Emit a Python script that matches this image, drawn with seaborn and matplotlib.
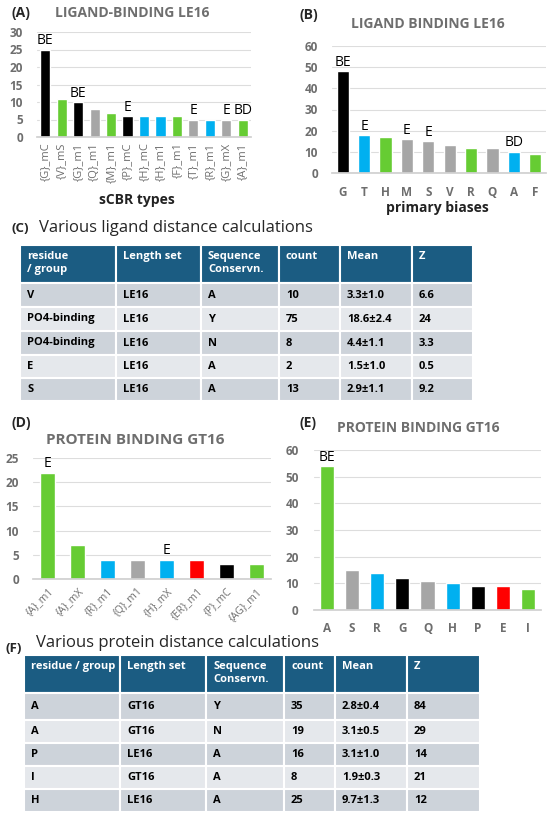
import numpy as np
import pandas as pd
import seaborn as sns
import matplotlib.pyplot as plt
from matplotlib.patches import Rectangle

# ---- data -------------------------------------------------------------
BLK, GRN, BLU, GRY, RED = "#000000", "#66CC33", "#00B0F0", "#A6A6A6", "#FF0000"

a_cats = ["{G}_mC", "{V}_mS", "{G}_m1", "{Q}_m1", "{M}_m1", "{P}_mC", "{H}_mC",
          "{H}_m1", "{F}_m1", "{T}_m1", "{R}_m1", "{G}_mX", "{A}_m1"]
a_vals = [25, 11, 10, 8, 7, 6, 6, 6, 6, 5, 5, 5, 5]
a_cols = [BLK, GRN, BLK, GRY, GRN, BLK, BLU, BLU, GRN, GRY, BLU, GRY, GRN]
a_notes = ["BE", "", "BE", "", "", "E", "", "", "", "E", "", "E", "BD"]

b_cats = ["G", "T", "H", "M", "S", "V", "R", "Q", "A", "F"]
b_vals = [48, 18, 17, 16, 15, 13, 12, 12, 10, 9]
b_cols = [BLK, BLU, GRN, GRY, GRY, GRY, GRN, GRY, BLU, GRN]
b_notes = ["BE", "E", "", "E", "E", "", "", "", "BD", ""]

d_cats = ["{A}_m1", "{A}_mX", "{R}_m1", "{Q}_m1", "{H}_mX", "{ER}_m1", "{P}_mC", "{AG}_m1"]
d_vals = [22, 7, 4, 4, 4, 4, 3, 3]
d_cols = [GRN, GRN, BLU, GRY, BLU, RED, BLK, GRN]
d_notes = ["E", "", "", "", "E", "", "", ""]

e_cats = ["A", "S", "R", "G", "Q", "H", "P", "E", "I"]
e_vals = [54, 15, 14, 12, 11, 10, 9, 9, 8]
e_cols = [GRN, GRY, BLU, BLK, GRY, BLU, BLK, RED, GRN]
e_notes = ["BE", "", "", "", "", "", "", "", ""]

c_header = ["residue\n/ group", "Length set", "Sequence\nConservn.", "count", "Mean", "Z"]
c_rows = [
    ["V", "LE16", "A", "10", "3.3±1.0", "6.6"],
    ["PO4-binding", "LE16", "Y", "75", "18.6±2.4", "24"],
    ["PO4-binding", "LE16", "N", "8", "4.4±1.1", "3.3"],
    ["E", "LE16", "A", "2", "1.5±1.0", "0.5"],
    ["S", "LE16", "A", "13", "2.9±1.1", "9.2"],
]

f_header = ["residue / group", "Length set", "Sequence\nConservn.", "count", "Mean", "Z"]
f_rows = [
    ["A", "GT16", "Y", "35", "2.8±0.4", "84"],
    ["A", "GT16", "N", "19", "3.1±0.5", "29"],
    ["P", "LE16", "A", "16", "3.1±1.0", "14"],
    ["I", "GT16", "A", "8", "1.9±0.3", "21"],
    ["H", "LE16", "A", "25", "9.7±1.3", "12"],
]

# ---- style ------------------------------------------------------------
sns.set_theme(style="white")
plt.rcParams["font.family"] = ["Open Sans", "DejaVu Sans"]
TICK = "#6E6E6E"
W, H = 550, 818
fig = plt.figure(figsize=(W / 100, H / 100), dpi=100)


def px_axes(l, t, r, b):
    return fig.add_axes([l / W, 1 - b / H, (r - l) / W, (b - t) / H])


def bar_panel(ax, cats, vals, cols, notes, ymax, step, width, xrot, xfs, xpad, ypad):
    df = pd.DataFrame({"cat": cats, "val": vals})
    sns.barplot(data=df, x="cat", y="val", hue="cat", palette=dict(zip(cats, cols)),
                legend=False, width=width, saturation=1, ax=ax)
    for cont, note in zip(ax.containers, notes):
        ax.bar_label(cont, labels=[note], padding=1, fontsize=10, color="black")
    ax.set_ylim(0, ymax)
    ax.set_yticks(np.arange(0, ymax + 1, step))
    ax.set_xlim(-0.5, len(cats) - 0.5)
    ax.yaxis.grid(True, color="#DDDDDD", lw=0.8)
    ax.set_axisbelow(True)
    sns.despine(ax=ax, left=True)
    ax.spines["bottom"].set_color("#D0D0D0")
    ax.set_xlabel("")
    ax.set_ylabel("")
    ax.tick_params(axis="both", length=0, colors=TICK)
    ax.tick_params(axis="y", pad=ypad, labelsize=8.5)
    ax.tick_params(axis="x", pad=xpad, labelsize=xfs)
    for t in ax.get_yticklabels():
        t.set_fontweight("bold")
    if xrot == 90:
        for t in ax.get_xticklabels():
            t.set_rotation(90)
    elif xrot == 45:
        for t in ax.get_xticklabels():
            t.set_rotation(45)
            t.set_ha("right")
            t.set_rotation_mode("anchor")
    else:
        for t in ax.get_xticklabels():
            t.set_fontweight("bold")


axA = px_axes(37, 32, 251, 137)
bar_panel(axA, a_cats, a_vals, a_cols, a_notes, 30, 5, 0.62, 90, 8, 4, 10)
axB = px_axes(332, 46, 546, 173)
bar_panel(axB, b_cats, b_vals, b_cols, b_notes, 60, 10, 0.57, 0, 8.5, 9, 10)
axD = px_axes(33, 458, 271, 579)
bar_panel(axD, d_cats, d_vals, d_cols, d_notes, 25, 5, 0.5, 45, 7.5, 5, 10)
axE = px_axes(314, 450, 541, 610)
bar_panel(axE, e_cats, e_vals, e_cols, e_notes, 60, 10, 0.56, 0, 8.5, 9, 11)

# ---- overlay for texts and tables -------------------------------------
ov = fig.add_axes([0, 0, 1, 1])
ov.set_xlim(0, W)
ov.set_ylim(H, 0)
ov.axis("off")


def txt(x, y, s, **kw):
    kw.setdefault("va", "center")
    ov.text(x, y, s, **kw)


TITLE = dict(color="#6E6E6E", fontweight="bold", fontsize=10, ha="center")
txt(11, 13, "(A)", fontweight="bold", fontsize=10)
txt(132, 13, "LIGAND-BINDING LE16", **TITLE)
txt(137, 200, "sCBR types", fontweight="bold", fontsize=10, ha="center", color="#222222")
txt(299, 15, "(B)", fontweight="bold", fontsize=10)
txt(428, 24, "LIGAND BINDING LE16", **TITLE)
txt(437, 208, "primary biases", fontweight="bold", fontsize=10, ha="center", color="#222222")
txt(11, 228, "(C)", fontweight="bold", fontsize=9.5)
txt(39, 228, "Various ligand distance calculations", fontsize=12)
txt(11, 423, "(D)", fontweight="bold", fontsize=10)
txt(135, 440, "PROTEIN BINDING GT16", **{**TITLE, "fontsize": 11})
txt(299, 423, "(E)", fontweight="bold", fontsize=10)
txt(418, 428, "PROTEIN BINDING GT16", **TITLE)
txt(6, 649, "(F)", fontweight="bold", fontsize=9.5)
txt(36, 643, "Various protein distance calculations", fontsize=12)

HEAD = "#1B5C82"
ROWC = ["#CDD3DA", "#E5E8EC"]


def draw_table(header, rows, xs, ys):
    for j in range(len(header)):
        ov.add_patch(Rectangle((xs[j], ys[0]), xs[j + 1] - xs[j], ys[1] - ys[0],
                               facecolor=HEAD, edgecolor="white", lw=1.5))
        ov.text(xs[j] + 7, ys[0] + 6, header[j], color="white", fontweight="bold",
                fontsize=8, va="top", ha="left", linespacing=1.2)
    for i, row in enumerate(rows):
        top, bot = ys[i + 1], ys[i + 2]
        for j, val in enumerate(row):
            ov.add_patch(Rectangle((xs[j], top), xs[j + 1] - xs[j], bot - top,
                                   facecolor=ROWC[i % 2], edgecolor="white", lw=1.5))
            ov.text(xs[j] + 7, (top + bot) / 2, val, color="black", fontweight="bold",
                    fontsize=8, va="center", ha="left")


draw_table(c_header, c_rows, [20, 116, 201, 279, 340, 412, 473],
           [245, 283, 307, 331, 355, 378, 401])
draw_table(f_header, f_rows, [24, 120, 206, 284, 335, 407, 480],
           [655, 693, 720, 743, 766, 789, 812])

fig.savefig("out.png", dpi=100)
